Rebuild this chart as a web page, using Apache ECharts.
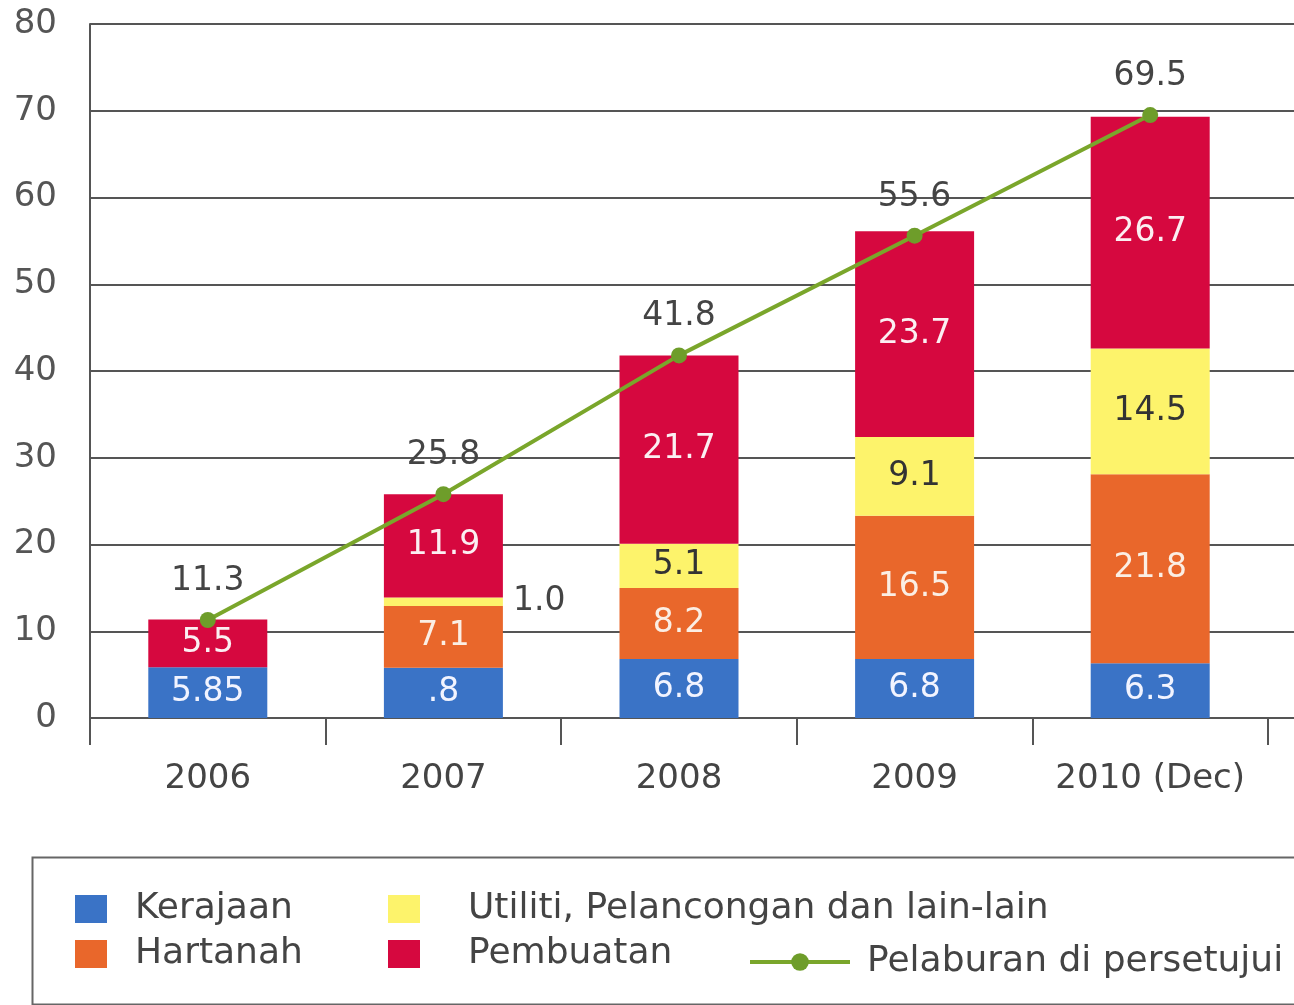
<!DOCTYPE html>
<html>
<head>
<meta charset="utf-8">
<title>Pelaburan</title>
<script src="https://cdn.jsdelivr.net/npm/echarts@6/dist/echarts.min.js"></script>
<style>
    html, body { margin: 0; padding: 0; background: #fff; }
    #chart { width: 1294px; height: 1005px; }
</style>
</head>
<body>
<div id="chart"></div>
<script>
// data
var years = ['2006', '2007', '2008', '2009', '2010 (Dec)'];
var kerajaan = [5.85, 5.8, 6.8, 6.8, 6.3];
var kerajaanLabels = ['5.85', '.8', '6.8', '6.8', '6.3'];
var hartanah = [null, 7.1, 8.2, 16.5, 21.8];
var utiliti = [null, 1.0, 5.1, 9.1, 14.5];
var pembuatan = [5.5, 11.9, 21.7, 23.7, 26.7];
var pelaburan = [11.3, 25.8, 41.8, 55.6, 69.5];
var yTicks = [0, 80, 10]; // min, max, interval

var FONT = 'DejaVu Sans';
var GRID_LINE = '#555';

function fmt(p) {
    return p.value == null ? '' : Number(p.value).toFixed(1);
}

function barSeries(name, data, color, textColor, formatter) {
    return {
        name: name,
        type: 'bar',
        stack: 'total',
        barWidth: 119,
        data: data,
        itemStyle: {color: color},
        label: {
            show: true,
            position: 'inside',
            fontFamily: FONT,
            fontSize: 33,
            color: textColor,
            formatter: formatter || fmt
        }
    };
}

var utilitiData = utiliti.map(function (v, i) {
    // 2007 label sits outside the thin bar
    if (i === 1) {
        return {value: v, label: {position: 'right', distance: 10, color: '#444'}};
    }
    return v;
});

var chart = echarts.init(document.getElementById('chart'));
var option = {
    animation: false,
    textStyle: {fontFamily: FONT},
    grid: [
        {left: 90, right: 26, top: 24, bottom: 287},
        {left: 90, right: 0, top: 24, bottom: 287}
    ],
    xAxis: [
        {
            type: 'category',
            gridIndex: 0,
            data: years,
            axisLine: {show: true, lineStyle: {color: GRID_LINE, width: 2}},
            axisTick: {show: true, length: 27, interval: 0, lineStyle: {color: GRID_LINE, width: 2}},
            axisLabel: {fontFamily: FONT, fontSize: 34, color: '#444', margin: 44, interval: 0}
        },
        {type: 'value', gridIndex: 1, min: 0, max: 1, show: false}
    ],
    yAxis: [
        {
            type: 'value',
            gridIndex: 0,
            min: yTicks[0],
            max: yTicks[1],
            interval: yTicks[2],
            axisLine: {show: true, lineStyle: {color: GRID_LINE, width: 2}},
            axisTick: {show: false},
            splitLine: {show: false},
            axisLabel: {fontFamily: FONT, fontSize: 34, color: '#555', margin: 33}
        },
        {
            type: 'value',
            gridIndex: 1,
            min: yTicks[0],
            max: yTicks[1],
            interval: yTicks[2],
            axisLine: {show: false},
            axisTick: {show: false},
            axisLabel: {show: false},
            splitLine: {show: true, lineStyle: {color: GRID_LINE, width: 2}}
        }
    ],
    legend: [
        {
            data: ['Kerajaan', 'Hartanah'],
            orient: 'vertical',
            left: 70,
            top: 884,
            icon: 'rect',
            itemWidth: 32,
            itemHeight: 28,
            itemGap: 5,
            selectedMode: false,
            textStyle: {fontFamily: FONT, fontSize: 36, color: '#444', lineHeight: 40, padding: [0, 0, 0, 23]}
        },
        {
            data: ['Utiliti, Pelancongan dan lain-lain', 'Pembuatan'],
            orient: 'vertical',
            left: 383,
            top: 884,
            icon: 'rect',
            itemWidth: 32,
            itemHeight: 28,
            itemGap: 5,
            selectedMode: false,
            textStyle: {fontFamily: FONT, fontSize: 36, color: '#444', lineHeight: 40, padding: [0, 0, 0, 43]}
        },
        {
            data: ['Pelaburan di persetujui'],
            left: 743,
            top: 937,
            itemWidth: 100,
            itemHeight: 22,
            lineStyle: {width: 4},
            selectedMode: false,
            textStyle: {fontFamily: FONT, fontSize: 36, color: '#444', lineHeight: 40, padding: [0, 0, 0, 12]}
        }
    ],
    graphic: [
        {
            type: 'rect',
            left: 30,
            top: 855,
            shape: {width: 1290, height: 147},
            style: {fill: 'none', stroke: '#666', lineWidth: 2},
            silent: true
        }
    ],
    series: [
        barSeries('Kerajaan', kerajaan, '#3a73c6', '#f2f4ff', function (p) {
            return kerajaanLabels[p.dataIndex];
        }),
        barSeries('Hartanah', hartanah, '#e9672b', '#fbeee4'),
        barSeries('Utiliti, Pelancongan dan lain-lain', utilitiData, '#fdf36b', '#333'),
        barSeries('Pembuatan', pembuatan, '#d6083f', '#fbeff2'),
        {
            name: 'Pelaburan di persetujui',
            type: 'line',
            data: pelaburan,
            z: 5,
            symbol: 'circle',
            symbolSize: 16,
            lineStyle: {color: '#7aa62b', width: 4},
            itemStyle: {color: '#6e9d2a'},
            label: {
                show: true,
                position: 'top',
                distance: 14,
                fontFamily: FONT,
                fontSize: 33,
                color: '#444',
                formatter: fmt
            }
        }
    ]
};
chart.setOption(option);
</script>
</body>
</html>
